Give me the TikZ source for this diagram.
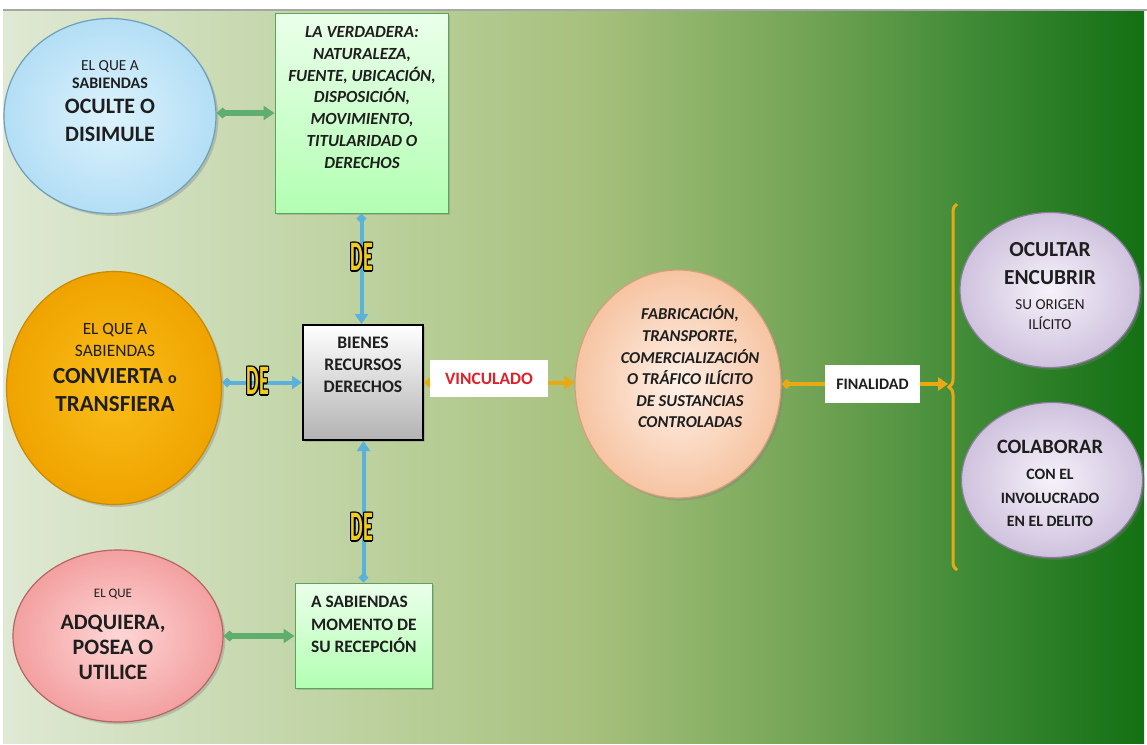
\documentclass[tikz,border=0pt]{standalone}
\usepackage{fontspec}
\setmainfont{Carlito}
\usetikzlibrary{shapes.geometric}
\usetikzlibrary{arrows.meta, shadows, decorations.pathreplacing, calc}
\usepackage{xcolor}

\definecolor{bgA}{HTML}{DFE9D4}
\definecolor{bgB}{HTML}{B9CF99}
\definecolor{bgC}{HTML}{A6C07C}
\definecolor{bgD}{HTML}{74A556}
\definecolor{bgE}{HTML}{3F8A36}
\definecolor{bgF}{HTML}{137013}
\definecolor{linkgreen}{HTML}{5FAE6E}
\definecolor{linkblue}{HTML}{5AB2DA}
\definecolor{linkgold}{HTML}{E9A912}
\definecolor{deyellow}{HTML}{F2CC1C}
\definecolor{vinred}{HTML}{E0202A}
\definecolor{inktext}{HTML}{1E1E1E}
\definecolor{blueIn}{HTML}{DDF3FD}
\definecolor{blueOut}{HTML}{B3DEF5}
\definecolor{blueLine}{HTML}{6E9FB8}
\definecolor{orangeIn}{HTML}{FBBE1A}
\definecolor{orangeOut}{HTML}{EFA300}
\definecolor{orangeLine}{HTML}{C98A00}
\definecolor{pinkIn}{HTML}{FFD6D6}
\definecolor{pinkOut}{HTML}{F3A0A0}
\definecolor{pinkLine}{HTML}{B56464}
\definecolor{peachIn}{HTML}{FFF1E8}
\definecolor{peachOut}{HTML}{F6C4A2}
\definecolor{peachLine}{HTML}{D49E7C}
\definecolor{lilacIn}{HTML}{F6F2FA}
\definecolor{lilacOut}{HTML}{CFC2DE}
\definecolor{lilacLine}{HTML}{8C7E9E}
\pgfdeclarehorizontalshading{bggreen}{100bp}{color(0bp)=(bgA); color(25bp)=(bgA);
  color(42.5bp)=(bgB); color(51bp)=(bgC); color(60bp)=(bgD); color(67.5bp)=(bgE);
  color(75bp)=(bgF); color(100bp)=(bgF)}

\begin{document}
\begin{tikzpicture}[x=0.5pt, y=-0.5pt, text=inktext]
        \tikzstyle{bubble}=[ellipse, draw, line width=0.6pt, inner sep=0pt,
            drop shadow={shadow xshift=1.2pt, shadow yshift=-1.2pt, opacity=0.35}]
        \tikzstyle{greenbox}=[rectangle, draw=green!30!gray, line width=0.5pt, inner sep=0pt,
            top color=green!8, bottom color=green!30,
            drop shadow={shadow xshift=1.2pt, shadow yshift=-1.2pt, opacity=0.35}]
        \tikzstyle{tagbox}=[rectangle, fill=white, inner sep=0pt, font=\bfseries]
        \tikzstyle{delabel}=[inner sep=0pt, font=\bfseries\fontsize{10}{10}\selectfont]
        \tikzstyle{greenlink}=[line width=2.6pt, draw=linkgreen,
            {Diamond[length=6pt, width=5.5pt]}-{Triangle[length=5.5pt, width=7pt]}]
        \tikzstyle{bluelink}=[line width=2pt, draw=linkblue,
            {Diamond[length=5pt, width=5pt]}-{Triangle[length=5pt, width=6.5pt]}]
        \tikzstyle{goldlink}=[line width=2pt, draw=linkgold,
            {Diamond[length=5pt, width=5pt]}-{Triangle[length=5pt, width=6.5pt]}]

        % fondo
        \useasboundingbox (0,0) rectangle (1147,745);
        \fill[white] (0,0) rectangle (1147,745);
        \shade[shading=bggreen] (3,11) rectangle (1144,743);
        \draw[gray!70, line width=1.2pt] (3,10) -- (1147,10);

        % circulos de la izquierda
        \node[bubble, draw=blueLine, inner color=blueIn, outer color=blueOut,
              minimum width=106pt, minimum height=97.5pt] (oculte) at (110,116) {};
        \node[bubble, draw=orangeLine, inner color=orangeIn, outer color=orangeOut,
              minimum width=107.5pt, minimum height=116.5pt] (convierta) at (114,388) {};
        \node[bubble, draw=pinkLine, inner color=pinkIn, outer color=pinkOut,
              minimum width=105pt, minimum height=86pt] (adquiera) at (118,636) {};

        % cajas
        \node[greenbox, minimum width=86.5pt, minimum height=100pt] (verdadera) at (361.5,113) {};
        \node[rectangle, draw=black, line width=1pt, top color=white, bottom color=gray!60,
              minimum width=60pt, minimum height=57.5pt,
              drop shadow={shadow xshift=1.2pt, shadow yshift=-1.2pt, opacity=0.35}] (bienes) at (363,382.5) {};
        \node[greenbox, minimum width=68.5pt, minimum height=52.5pt] (recepcion) at (363.5,635.5) {};

        % circulos de la derecha
        \node[bubble, draw=peachLine, inner color=peachIn, outer color=peachOut,
              minimum width=103pt, minimum height=114pt] (trafico) at (678,384) {};
        \node[bubble, draw=lilacLine, inner color=lilacIn, outer color=lilacOut,
              minimum width=90pt, minimum height=77.5pt] (ocultar) at (1050,290) {};
        \node[bubble, draw=lilacLine, inner color=lilacIn, outer color=lilacOut,
              minimum width=90.5pt, minimum height=77.5pt] (colaborar) at (1052,480) {};

        % llave
        \draw[linkgold, line width=1.5pt, decorate, decoration={brace, amplitude=4pt}]
            (957,570) -- (957,204);
        \coordinate (llave) at (948,387);

        % conectores
        \draw[greenlink] (oculte.east |- verdadera.west) -- (verdadera.west);
        \draw[greenlink] (adquiera.east) -- (adquiera.east -| recepcion.west);
        \draw[bluelink] (verdadera.south) -- (verdadera.south |- bienes.north);
        \draw[bluelink] (convierta.east |- bienes.west) -- (bienes.west);
        \draw[bluelink] (recepcion.north) -- (recepcion.north |- bienes.south);
        \draw[goldlink] (bienes.east) -- (bienes.east -| trafico.west);
        \draw[goldlink] (trafico.east) -- (trafico.east -| llave);

        % etiquetas sobre los conectores
        \node[tagbox, text=vinred, font=\bfseries\fontsize{8.7}{10}\selectfont,
              minimum width=59pt, minimum height=18.5pt] (vinculado) at (489,378.5) {VINCULADO};
        \node[tagbox, font=\bfseries\fontsize{8}{10}\selectfont,
              minimum width=47.5pt, minimum height=19pt] (finalidad) at (872.5,384) {FINALIDAD};

        \foreach \nm/\px/\py in {de1/362/257, de2/258/381, de3/362/527} {
            \foreach \ang in {0,45,...,315}
                \node[delabel, text=black] at ($(\px,\py)+(\ang:0.7pt)$) {\scalebox{1}[2.1]{DE}};
            \node[delabel, text=deyellow] (\nm) at (\px,\py) {\scalebox{1}[2.1]{DE}};
        }

        % textos
        \node[align=center, font=\fontsize{11}{14}\selectfont] (t-oculte) at (110,101)
            {{\fontsize{7.7}{9}\selectfont EL QUE A}\\[-5pt]
             {\fontsize{8}{9}\selectfont\bfseries SABIENDAS}\\[-1.5pt]
             {\bfseries OCULTE O}\\
             {\bfseries DISIMULE}};
        \node[align=center, font=\fontsize{11.5}{14}\selectfont] (t-convierta) at (115,367)
            {{\fontsize{8.6}{9}\selectfont EL QUE A}\\[-3pt]
             {\fontsize{8.7}{9}\selectfont SABIENDAS}\\[-0.5pt]
             {\bfseries CONVIERTA {\fontsize{8}{9}\selectfont o}}\\
             {\bfseries TRANSFIERA}};
        \node[align=center, font=\bfseries\fontsize{11}{12.5}\selectfont] (t-adquiera) at (113,634)
            {{\mdseries\fontsize{6.5}{7}\selectfont EL QUE}\\[3.5pt]
             ADQUIERA,\\ POSEA O\\ UTILICE};
        \node[align=center, font=\bfseries\itshape\fontsize{8.5}{10.9}\selectfont] (t-verdadera) at (362,97.5)
            {LA VERDADERA:\\ NATURALEZA,\\ FUENTE, UBICACIÓN,\\ DISPOSICIÓN,\\
             MOVIMIENTO,\\ TITULARIDAD O\\ DERECHOS};
        \node[align=center, font=\bfseries\fontsize{8.8}{11}\selectfont] (t-bienes) at (363,365)
            {BIENES\\ RECURSOS\\ DERECHOS};
        \node[align=left, anchor=west, font=\bfseries\fontsize{8.7}{11.25}\selectfont] (t-recepcion) at (304,624.5)
            {A SABIENDAS\\ MOMENTO DE\\ SU RECEPCIÓN};
        \node[align=center, font=\bfseries\itshape\fontsize{8.3}{10.8}\selectfont] (t-trafico) at (690,367)
            {FABRICACIÓN,\\ TRANSPORTE,\\ COMERCIALIZACIÓN\\ O TRÁFICO ILÍCITO\\
             DE SUSTANCIAS\\ CONTROLADAS};
        \node[align=center, font=\bfseries\fontsize{10.7}{14}\selectfont] (t-ocultar) at (1050,286)
            {OCULTAR\\ ENCUBRIR\\[-1.5pt]
             {\mdseries\fontsize{7.6}{9}\selectfont SU ORIGEN}\\[-4pt]
             {\mdseries\fontsize{7.6}{9}\selectfont ILÍCITO}};
        \node[align=center, font=\bfseries\fontsize{7.9}{11.5}\selectfont] (t-colaborar) at (1050,483)
            {{\fontsize{10.2}{12}\selectfont COLABORAR}\\[1.5pt]
             CON EL\\[0.5pt] INVOLUCRADO\\ EN EL DELITO};
\end{tikzpicture}
\end{document}
